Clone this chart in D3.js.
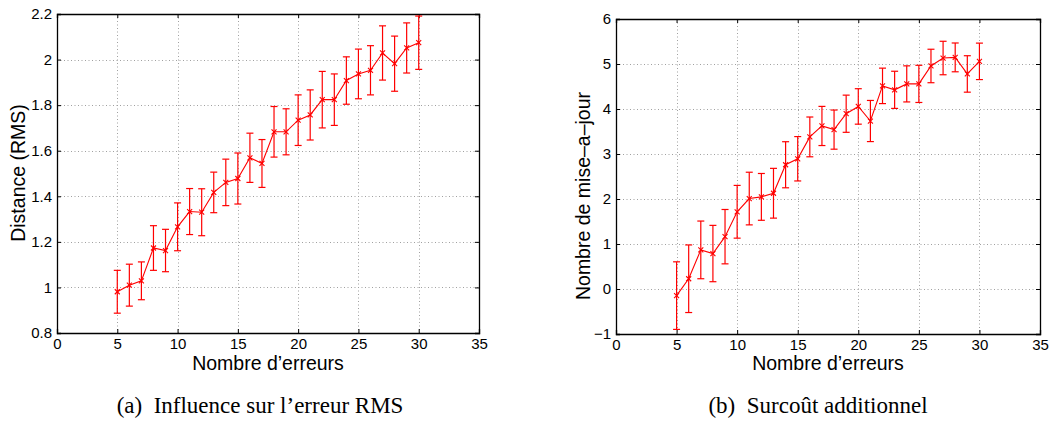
<!DOCTYPE html>
<html>
<head>
<meta charset="utf-8">
<script src="https://cdn.jsdelivr.net/npm/d3@7"></script>
<style>
  html, body { margin: 0; padding: 0; background: #fff; }
  svg { display: block; }
</style>
</head>
<body>
<svg id="chart" width="1058" height="423"></svg>
<script>
// ---- Data ----
const nbErreurs = [5,6,7,8,9,10,11,12,13,14,15,16,17,18,19,20,21,22,23,24,25,26,27,28,29,30];

const rmsMean = [0.981,1.010,1.029,1.173,1.162,1.266,1.333,1.330,1.417,1.461,1.478,1.569,1.544,1.683,1.683,1.734,1.757,1.824,1.824,1.908,1.937,1.953,2.029,1.982,2.051,2.074];
const rmsErr  = [0.094,0.092,0.083,0.098,0.093,0.105,0.101,0.103,0.089,0.102,0.112,0.108,0.105,0.111,0.101,0.111,0.110,0.124,0.113,0.104,0.109,0.108,0.119,0.121,0.110,0.117];

const majMean = [-0.147,0.228,0.869,0.788,1.163,1.716,2.010,2.047,2.128,2.761,2.894,3.380,3.623,3.542,3.895,4.057,3.733,4.514,4.426,4.558,4.558,4.956,5.133,5.147,4.779,5.059];
const majErr  = [0.751,0.751,0.641,0.626,0.604,0.586,0.585,0.520,0.553,0.512,0.493,0.442,0.435,0.435,0.413,0.394,0.457,0.394,0.413,0.401,0.413,0.372,0.372,0.320,0.405,0.405];

const xTicks = [0,5,10,15,20,25,30,35];
const yTicksA = [0.8,1,1.2,1.4,1.6,1.8,2,2.2];
const yTicksB = [-1,0,1,2,3,4,5,6];

const xLabel = "Nombre d\u2019erreurs";
const yLabelA = "Distance (RMS)";
const yLabelB = "Nombre de mise\u2013a\u2013jour";
const captionA = "(a)\u2002Influence sur l\u2019erreur RMS";
const captionB = "(b)\u2002Surco\u00fbt additionnel";

// ---- Drawing ----
const svg = d3.select("#chart");
const RED = "#ff0000";
const SANS = "'Liberation Sans', Arial, Helvetica, sans-serif";
const SERIF = "'Liberation Serif', 'Times New Roman', serif";

function panel(cfg) {
  const g = svg.append("g");
  const x = d3.scaleLinear().domain([0, 35]).range([cfg.x0, cfg.x1]);
  const y = d3.scaleLinear().domain(cfg.yDomain).range([cfg.y1, cfg.y0]);

  // grid
  g.append("g").selectAll("line").data(xTicks.slice(1, -1)).join("line")
    .attr("x1", d => Math.round(x(d)) + 0.5).attr("x2", d => Math.round(x(d)) + 0.5)
    .attr("y1", cfg.y0).attr("y2", cfg.y1)
    .attr("stroke", "#a0a0a0").attr("stroke-dasharray", "1,2.5");
  g.append("g").selectAll("line").data(cfg.yTicks.slice(1, -1)).join("line")
    .attr("y1", d => Math.round(y(d)) + 0.5).attr("y2", d => Math.round(y(d)) + 0.5)
    .attr("x1", cfg.x0).attr("x2", cfg.x1)
    .attr("stroke", "#a0a0a0").attr("stroke-dasharray", "1,2.5");

  // axes (ticks inward on all four sides)
  const tickFmt = d3.format("~g");
  const axB = d3.axisBottom(x).tickValues(xTicks).tickSize(-4).tickPadding(5).tickFormat(tickFmt);
  const axT = d3.axisTop(x).tickValues(xTicks).tickSize(-4).tickFormat("");
  const axL = d3.axisLeft(y).tickValues(cfg.yTicks).tickSize(-4).tickPadding(5).tickFormat(tickFmt);
  const axR = d3.axisRight(y).tickValues(cfg.yTicks).tickSize(-4).tickFormat("");
  [[axB, `translate(0,${cfg.y1})`], [axT, `translate(0,${cfg.y0})`],
   [axL, `translate(${cfg.x0},0)`], [axR, `translate(${cfg.x1},0)`]].forEach(([ax, tr]) => {
    const a = g.append("g").attr("transform", tr).call(ax);
    a.select(".domain").attr("stroke", "#000").attr("stroke-width", 1.3);
    a.selectAll(".tick line").attr("stroke", "#000");
    a.selectAll("text").attr("font-family", SANS).attr("font-size", 15).attr("fill", "#000");
  });

  // error bars
  const cap = 3.5;
  const eb = g.append("g").attr("stroke", RED).attr("stroke-width", 1.2);
  nbErreurs.forEach((n, i) => {
    const cx = x(n), m = cfg.mean[i], e = cfg.err[i];
    const yt = y(m + e), yb = y(m - e);
    eb.append("line").attr("x1", cx).attr("x2", cx).attr("y1", yt).attr("y2", yb);
    eb.append("line").attr("x1", cx - cap).attr("x2", cx + cap).attr("y1", yt).attr("y2", yt);
    eb.append("line").attr("x1", cx - cap).attr("x2", cx + cap).attr("y1", yb).attr("y2", yb);
  });

  // line
  const line = d3.line().x((d, i) => x(nbErreurs[i])).y(d => y(d));
  g.append("path").datum(cfg.mean).attr("d", line)
    .attr("fill", "none").attr("stroke", RED).attr("stroke-width", 1.1);

  // x markers
  const ms = 2.5;
  const mk = g.append("g").attr("stroke", RED).attr("stroke-width", 1.1);
  nbErreurs.forEach((n, i) => {
    const cx = x(n), cy = y(cfg.mean[i]);
    mk.append("path").attr("d", `M${cx-ms},${cy-ms}L${cx+ms},${cy+ms}M${cx-ms},${cy+ms}L${cx+ms},${cy-ms}`);
  });

  // labels
  g.append("text").attr("x", (cfg.x0 + cfg.x1) / 2).attr("y", 370)
    .attr("text-anchor", "middle").attr("font-family", SANS).attr("font-size", 19.5)
    .text(xLabel);
  g.append("text").attr("transform", `translate(${cfg.ylx},${cfg.yly}) rotate(-90)`)
    .attr("text-anchor", "middle").attr("font-family", SANS).attr("font-size", 19.5)
    .text(cfg.yLabel);
  g.append("text").attr("x", cfg.capx).attr("y", 413)
    .attr("text-anchor", "middle").attr("font-family", SERIF).attr("font-size", 23)
    .text(cfg.caption);
}

panel({ x0: 57, x1: 479, y0: 14, y1: 333, yDomain: [0.8, 2.2], yTicks: yTicksA,
        mean: rmsMean, err: rmsErr, yLabel: yLabelA, ylx: 25, yly: 173,
        caption: captionA, capx: 260 });
panel({ x0: 616, x1: 1040, y0: 19, y1: 334, yDomain: [-1, 6], yTicks: yTicksB,
        mean: majMean, err: majErr, yLabel: yLabelB, ylx: 590, yly: 196,
        caption: captionB, capx: 818 });
</script>
</body>
</html>
